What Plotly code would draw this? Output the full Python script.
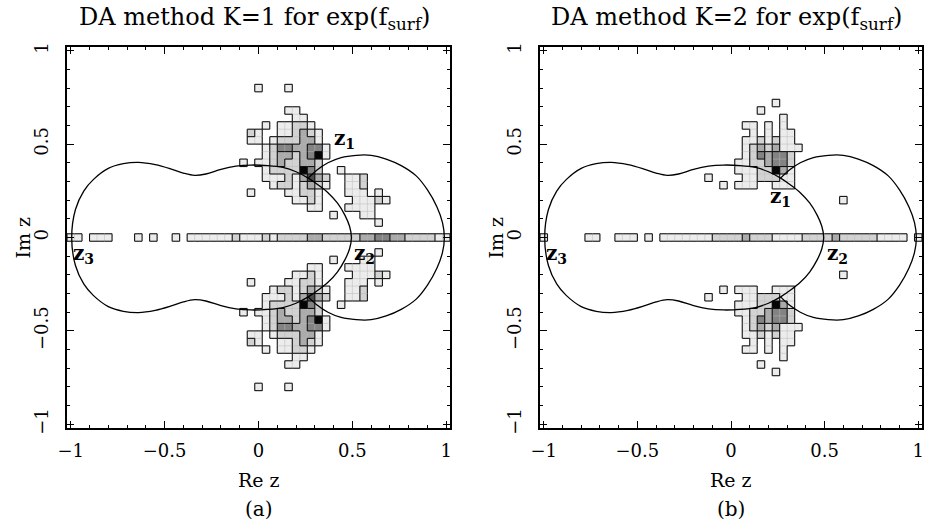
import plotly.graph_objects as go

# ---------------- data ----------------
BIN = 0.04                      # histogram cell size (grid centred on multiples of 0.04)
COLS = list(range(-25, 26))     # cell indices along each axis

# real-axis strip (row j = 0), columns i = -25..25 ; '.' = empty, digit = grey level
A_STRIP = "11.111...1.1..1." + "1111112111" + "2122223322222334433222211"
B_STRIP = "1.....11..111.1." + "1111111222" + "2322211112222322222" + "1111.1"

# rows: (row j, first column i, levels)
A_UPPER = [
    (20, 0, "1...1"),
    (17, 4, "11"),
    (16, 5, "11"),
    (15, 1, "1.11221"),
    (14, -1, "21..112321"),
    (13, -1, "11.1222331"),
    (12, 1, "124433441"),
    (11, 1, "123323461"),
    (10, -2, "1.112322332"),
    (9, 1, "12222642..1"),
    (8, 1, "111213532..112"),
    (7, 2, "12212321..112"),
    (6, -1, "1....11221...111.1"),
    (5, 5, "1121....11121"),
    (4, 7, "11...1111"),
    (3, 10, "1...11"),
    (2, 16, "1"),
]
A_LOWER = [
    (-20, 0, "1...1"),
    (-17, 4, "11"),
    (-16, 5, "11"),
    (-15, 1, "1.11221"),
    (-14, -1, "21..112321"),
    (-13, -1, "11.1222331"),
    (-12, 1, "124433441"),
    (-11, 1, "123323461"),
    (-10, -2, "1.112322332"),
    (-9, 1, "12222642..1"),
    (-8, 1, "111213532..112"),
    (-7, 2, "12212321..112"),
    (-6, -1, "1....11221...111.1"),
    (-5, 5, "1121....11121"),
    (-4, 7, "11...1111"),
    (-3, 10, "1...11"),
    (-2, 16, "1"),
]
B_UPPER = [
    (18, 6, "1"),
    (17, 4, "1"),
    (16, 7, "1"),
    (15, 2, "11.1.1"),
    (14, 3, "1.1.11"),
    (13, 2, "1121211"),
    (12, 2, "12323111"),
    (11, 2, "1243442"),
    (10, 1, "11223442"),
    (9, 1, "11122631"),
    (8, -3, "1....1122211"),
    (7, -1, "1.111..111"),
    (5, 15, "1"),
]
B_LOWER = [
    (-18, 6, "1"),
    (-17, 4, "1"),
    (-16, 7, "1"),
    (-15, 2, "11.1.1"),
    (-14, 3, "1.1.11"),
    (-13, 2, "1121211"),
    (-12, 2, "12323111"),
    (-11, 2, "1243442"),
    (-10, 1, "11223442"),
    (-9, 1, "11122631"),
    (-8, -3, "1....1122211"),
    (-7, -1, "1.111..111"),
    (-5, 15, "1"),
]

# boundary curves (same in both panels)
PEANUT_X = [-0.995, -0.975, -0.93, -0.88, -0.80, -0.72, -0.64, -0.55, -0.46, -0.40, -0.34,
            -0.28, -0.20, -0.12, -0.04, 0.05, 0.13, 0.20, 0.265, 0.32, 0.37, 0.42, 0.46,
            0.485, 0.495,
            0.485, 0.46, 0.42, 0.37, 0.32, 0.265, 0.20, 0.13, 0.05, -0.04, -0.12, -0.20,
            -0.28, -0.34, -0.40, -0.46, -0.55, -0.64, -0.72, -0.80, -0.88, -0.93, -0.975, -0.995]
PEANUT_Y = [0.0, 0.15, 0.25, 0.31, 0.37, 0.395, 0.402, 0.39, 0.365, 0.345, 0.333,
            0.34, 0.365, 0.382, 0.388, 0.385, 0.375, 0.352, 0.318, 0.28, 0.24, 0.185, 0.12,
            0.06, 0.0,
            -0.06, -0.12, -0.185, -0.24, -0.28, -0.318, -0.352, -0.375, -0.385, -0.388, -0.382,
            -0.365, -0.34, -0.333, -0.345, -0.365, -0.39, -0.402, -0.395, -0.37, -0.31, -0.25,
            -0.15, 0.0]
LOOP_X = [0.265, 0.31, 0.37, 0.44, 0.52, 0.60, 0.68, 0.76, 0.84, 0.90, 0.95, 0.98, 0.99,
          0.98, 0.95, 0.90, 0.84, 0.76, 0.68, 0.60, 0.52, 0.44, 0.37, 0.31, 0.265]
LOOP_Y = [0.318, 0.36, 0.40, 0.428, 0.44, 0.44, 0.42, 0.385, 0.33, 0.255, 0.165, 0.08, 0.0,
          -0.08, -0.165, -0.255, -0.33, -0.385, -0.42, -0.44, -0.44, -0.428, -0.40, -0.36, -0.318]

LEVEL_COLORS = ["#ececec", "#d2d2d2", "#ababab", "#838383", "#4a4a4a", "#050505"]

TITLES = ["DA method K=1 for exp(f<sub>surf</sub>)", "DA method K=2 for exp(f<sub>surf</sub>)"]
PANEL_LABELS = ["(a)", "(b)"]
TICKVALS = [-1, -0.5, 0, 0.5, 1]
TICKTEXT = ["\u22121", "\u22120.5", "0", "0.5", "1"]
# root labels: (text, x, y) in data units
A_ROOTS = [("z<sub>1</sub>", 0.39, 0.525), ("z<sub>2</sub>", 0.50, -0.09), ("z<sub>3</sub>", -1.0, -0.09)]
B_ROOTS = [("z<sub>1</sub>", 0.20, 0.215), ("z<sub>2</sub>", 0.50, -0.09), ("z<sub>3</sub>", -1.0, -0.09)]

FONT = "DejaVu Serif"


def build_cells(strip, upper, lower):
    cells = {}
    for k, ch in enumerate(strip):
        if ch != ".":
            cells[(COLS[0] + k, 0)] = int(ch)
    for rows in (upper, lower):
        for j, i0, s in rows:
            for k, ch in enumerate(s):
                if ch != ".":
                    cells[(i0 + k, j)] = int(ch)
    return cells


def heat_trace(cells, xa, ya):
    z = [[cells.get((i, j)) for i in COLS] for j in COLS]
    n = len(LEVEL_COLORS)
    cs = []
    for k, c in enumerate(LEVEL_COLORS):
        cs.append([k / n, c])
        cs.append([(k + 1) / n, c])
    return go.Heatmap(x=[i * BIN for i in COLS], y=[j * BIN for j in COLS], z=z,
                      zmin=0.5, zmax=n + 0.5, colorscale=cs, showscale=False,
                      hoverinfo="skip", xaxis=xa, yaxis=ya)


def edge_traces(cells, xa, ya):
    bx, by, fx, fy = [], [], [], []
    lo, hi = COLS[0], COLS[-1] + 1
    for i in range(lo, hi + 1):
        for j in range(lo, hi):
            a, b = cells.get((i - 1, j), 0), cells.get((i, j), 0)
            if a == 0 and b == 0:
                continue
            x = (i - 0.5) * BIN
            seg_x, seg_y = [x, x, None], [(j - 0.5) * BIN, (j + 0.5) * BIN, None]
            if a != b:
                bx += seg_x; by += seg_y
            else:
                fx += seg_x; fy += seg_y
    for j in range(lo, hi + 1):
        for i in range(lo, hi):
            a, b = cells.get((i, j - 1), 0), cells.get((i, j), 0)
            if a == 0 and b == 0:
                continue
            y = (j - 0.5) * BIN
            seg_x, seg_y = [(i - 0.5) * BIN, (i + 0.5) * BIN, None], [y, y, None]
            if a != b:
                bx += seg_x; by += seg_y
            else:
                fx += seg_x; fy += seg_y
    return [
        go.Scatter(x=fx, y=fy, mode="lines", line=dict(color="#b8b8b8", width=0.5),
                   hoverinfo="skip", xaxis=xa, yaxis=ya, showlegend=False),
        go.Scatter(x=bx, y=by, mode="lines", line=dict(color="#111111", width=1.1),
                   hoverinfo="skip", xaxis=xa, yaxis=ya, showlegend=False),
    ]


def curve_traces(xa, ya):
    return [
        go.Scatter(x=PEANUT_X, y=PEANUT_Y, mode="lines", line=dict(color="black", width=1.3, shape="spline"),
                   hoverinfo="skip", xaxis=xa, yaxis=ya, showlegend=False),
        go.Scatter(x=LOOP_X, y=LOOP_Y, mode="lines", line=dict(color="black", width=1.3, shape="spline"),
                   hoverinfo="skip", xaxis=xa, yaxis=ya, showlegend=False),
    ]


fig = go.Figure()
panels = [
    (build_cells(A_STRIP, A_UPPER, A_LOWER), "x", "y", A_ROOTS),
    (build_cells(B_STRIP, B_UPPER, B_LOWER), "x2", "y2", B_ROOTS),
]
for cells, xa, ya, roots in panels:
    fig.add_trace(heat_trace(cells, xa, ya))
    for t in edge_traces(cells, xa, ya):
        fig.add_trace(t)
    for t in curve_traces(xa, ya):
        fig.add_trace(t)

W, H = 927, 530
x_domains = [[67 / W, 450 / W], [540 / W, 922 / W]]
y_domain = [1 - 428 / H, 1 - 47 / H]

axis_common = dict(range=[-1.02, 1.02], showgrid=False, zeroline=False, showline=True,
                   linecolor="black", linewidth=1.5, mirror="allticks", ticks="inside",
                   ticklen=7, tickwidth=1, tickcolor="black", tickvals=TICKVALS, ticktext=TICKTEXT,
                   minor=dict(ticks="inside", ticklen=3.5, tickwidth=1, tickcolor="black", dtick=0.1, tick0=0),
                   tickfont=dict(family=FONT, size=18, color="black"), fixedrange=True,
                   automargin=False)

fig.update_layout(
    width=W, height=H, margin=dict(l=0, r=0, t=0, b=0, autoexpand=False),
    paper_bgcolor="white", plot_bgcolor="white", showlegend=False,
    xaxis=dict(domain=x_domains[0], anchor="y", ticklabelstandoff=6, **axis_common),
    yaxis=dict(domain=y_domain, anchor="x", tickangle=-90, ticklabelstandoff=10, **axis_common),
    xaxis2=dict(domain=x_domains[1], anchor="y2", ticklabelstandoff=6, **axis_common),
    yaxis2=dict(domain=y_domain, anchor="x2", tickangle=-90, ticklabelstandoff=10, **axis_common),
)

annotations = []
for k, (dom, xa, ya) in enumerate(zip(x_domains, ["x", "x2"], ["y", "y2"])):
    cx = (dom[0] + dom[1]) / 2
    annotations.append(dict(text=TITLES[k], x=cx - 4 / W, y=1 - 19 / H, xref="paper", yref="paper",
                            showarrow=False, font=dict(family=FONT, size=24, color="black"),
                            xanchor="center", yanchor="middle"))
    annotations.append(dict(text="Re z", x=cx, y=1 - 480 / H, xref="paper", yref="paper",
                            showarrow=False, font=dict(family=FONT, size=19, color="black"),
                            xanchor="center", yanchor="middle"))
    annotations.append(dict(text=PANEL_LABELS[k], x=cx, y=1 - 509 / H, xref="paper", yref="paper",
                            showarrow=False, font=dict(family=FONT, size=20, color="black"),
                            xanchor="center", yanchor="middle"))
    annotations.append(dict(text="Im z", x=dom[0] - 45 / W, y=(y_domain[0] + y_domain[1]) / 2,
                            xref="paper", yref="paper", textangle=-90, showarrow=False,
                            font=dict(family=FONT, size=19, color="black"),
                            xanchor="center", yanchor="middle"))
    for txt, zx, zy in panels[k][3]:
        annotations.append(dict(text="<b>" + txt + "</b>", x=zx, y=zy, xref=xa, yref=ya,
                                showarrow=False, font=dict(family=FONT, size=20, color="black"),
                                xanchor="left", yanchor="middle"))
fig.update_layout(annotations=annotations)

fig.write_html("out.html", config={"displayModeBar": False},
               post_script="document.body.style.margin='0px';")
